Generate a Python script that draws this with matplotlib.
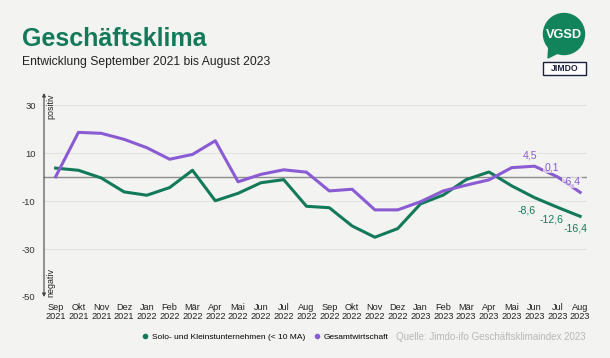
import matplotlib.pyplot as plt
from matplotlib.lines import Line2D
from matplotlib.patches import Circle, Polygon, Rectangle

plt.rcParams['font.family'] = ['Liberation Sans', 'DejaVu Sans']

# Daten
monate = ["Sep", "Okt", "Nov", "Dez", "Jan", "Feb", "Mär", "Apr", "Mai", "Jun", "Jul", "Aug",
          "Sep", "Okt", "Nov", "Dez", "Jan", "Feb", "Mär", "Apr", "Mai", "Jun", "Jul", "Aug"]
jahre = ["2021"] * 4 + ["2022"] * 12 + ["2023"] * 8
solo = [3.7, 2.8, -0.4, -6.2, -7.6, -4.4, 2.8, -9.9, -6.8, -2.4, -1.1, -12.2,
        -12.8, -20.4, -25.1, -21.5, -11.2, -7.5, -1.1, 2.1, -3.7, -8.6, -12.6, -16.4]
gesamt = [0.1, 18.6, 18.2, 15.7, 12.2, 7.4, 9.4, 15.1, -2.0, 1.1, 3.0, 2.0,
          -5.8, -5.1, -13.7, -13.7, -10.3, -5.8, -3.4, -1.2, 3.9, 4.5, 0.1, -6.4]
yticks = [30, 10, -10, -30, -50]

GRUEN = "#127a5a"
LILA = "#8a5bd3"
BG = "#f3f3f1"

fig = plt.figure(figsize=(6.1, 3.58), dpi=100, facecolor=BG)

# Logo-Ebene in Pixelkoordinaten
lg = fig.add_axes([0, 0, 1, 1])
lg.set_xlim(0, 610)
lg.set_ylim(358, 0)
lg.axis("off")
lg.add_patch(Circle((564, 34), 20.5, color="#11845c"))
lg.add_patch(Polygon([[549, 44], [560, 52], [548, 58]], color="#11845c"))
lg.text(564, 35, "VGSD", color="white", fontsize=9.2, fontweight="bold", ha="center", va="center")
lg.add_patch(Rectangle((543, 62), 43, 13, facecolor="white", edgecolor="#1c2040", lw=1.0))
lg.text(564.5, 68.8, "JIMDO", color="#1c2040", fontsize=6.2, fontweight="bold", ha="center", va="center")

fig.text(0.036, 0.8715, "Geschäftsklima", color=GRUEN, fontsize=18, fontweight="bold", va="baseline")
fig.text(0.036, 0.8184, "Entwicklung September 2021 bis August 2023", color="#222222", fontsize=8.7, va="baseline")

ax = fig.add_axes([44 / 610, 1 - 297 / 358, (587 - 44) / 610, (297 - 93) / 358])
ax.set_facecolor("none")
x = list(range(len(monate)))

ax.set_xlim(-0.51, 23.3)
ax.set_ylim(-50, 35)
for s in ax.spines.values():
    s.set_visible(False)

for t in yticks:
    ax.axhline(t, color="#e2e2e0", lw=0.8, zorder=0)
ax.axhline(0, color="#8c8c8c", lw=1.0, zorder=1)

ax.plot(x, solo, color=GRUEN, lw=2.2, solid_joinstyle="round", zorder=3)
ax.plot(x, gesamt, color=LILA, lw=2.2, solid_joinstyle="round", zorder=3)

ax.set_yticks(yticks)
ax.set_yticklabels([str(t) for t in yticks], fontsize=6.8, color="#333333")
ax.set_xticks(x)
ax.set_xticklabels([m + "\n" + j for m, j in zip(monate, jahre)], fontsize=6.6, color="#222222", linespacing=1.05)
ax.tick_params(length=0)
ax.tick_params(axis="y", pad=6)
ax.tick_params(axis="x", pad=4)

# Achse mit Pfeilen
ax.annotate("", xy=(0, 1), xytext=(0, 0), xycoords="axes fraction",
            arrowprops=dict(arrowstyle="<|-|>", color="#444444", lw=0.8, mutation_scale=5, shrinkA=0, shrinkB=0))
ax.text(0.013, 1.0, "positiv", rotation=90, fontsize=6.4, color="#222222", va="top", ha="center", transform=ax.transAxes)
ax.text(0.013, 0.0, "negativ", rotation=90, fontsize=6.4, color="#222222", va="bottom", ha="center", transform=ax.transAxes)

# Werte am Ende
box = dict(boxstyle="square,pad=0.1", facecolor=BG, edgecolor="none", alpha=0.7)
for i, dx, dy in [(21, -3.5, 8), (22, -4, 7), (23, -6, 7.5)]:
    ax.annotate(f"{gesamt[i]:.1f}".replace(".", ","), (i, gesamt[i]), xytext=(dx, dy), textcoords="offset points",
                ha="center", va="center", fontsize=7.6, color=LILA, bbox=box, zorder=4)
for i, dx, dy in [(21, -5.5, -9), (22, -4, -8.5), (23, -3.5, -8.5)]:
    ax.annotate(f"{solo[i]:.1f}".replace(".", ","), (i, solo[i]), xytext=(dx, dy), textcoords="offset points",
                ha="center", va="center", fontsize=7.6, color=GRUEN, bbox=box, zorder=4)

handles = [Line2D([], [], marker="o", ls="", color=GRUEN, ms=3, label="Solo- und Kleinstunternehmen (< 10 MA)"),
           Line2D([], [], marker="o", ls="", color=LILA, ms=3, label="Gesamtwirtschaft")]
fig.legend(handles=handles, loc="center", bbox_to_anchor=(0.434, 1 - 337 / 358), ncol=2, frameon=False,
           fontsize=6.0, handletextpad=0.3, columnspacing=1.0, handlelength=1.0)
fig.text(586 / 610, 1 - 337 / 358, "Quelle: Jimdo-ifo Geschäftsklimaindex 2023", color="#b8b8b8",
         fontsize=7.0, ha="right", va="center")

fig.savefig("out.png", dpi=100, facecolor=BG)
